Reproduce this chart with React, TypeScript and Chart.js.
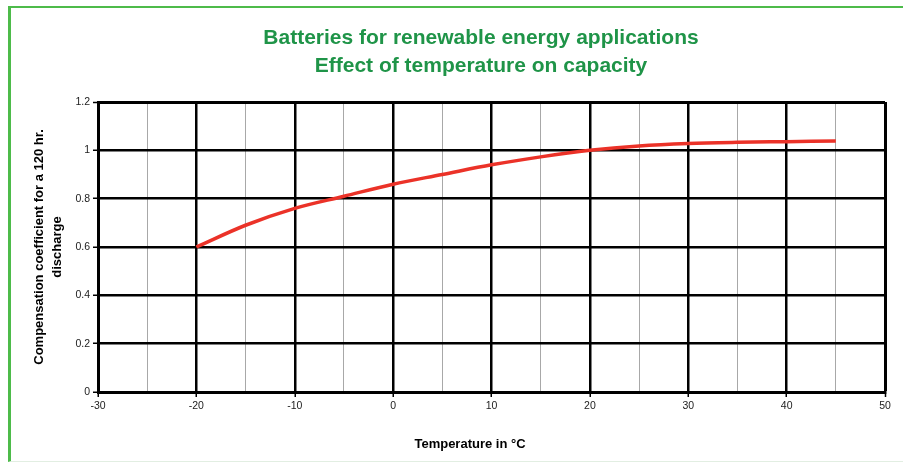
import { useEffect, useRef } from 'react';
import { Chart, registerables } from 'chart.js';

Chart.register(...registerables);

const titleLines = ['Batteries for renewable energy applications', 'Effect of temperature on capacity'];
const xAxisTitle = 'Temperature in °C';
const yAxisTitle = ['Compensation coefficient for a 120 hr.', 'discharge'];

const temperatures = [-20, -15, -10, -5, 0, 5, 10, 15, 20, 25, 30, 35, 40, 45];
const coefficients = [0.6, 0.69, 0.76, 0.81, 0.86, 0.9, 0.94, 0.973, 1.0, 1.018, 1.028, 1.033, 1.036, 1.039];

const xMin = -30;
const xMax = 50;
const xStep = 5;
const xMajor = 10;
const yMin = 0;
const yMax = 1.2;
const yStep = 0.2;

const FONT = '"Liberation Sans", Arial, Helvetica, sans-serif';

export default function App() {
  const canvasRef = useRef<HTMLCanvasElement | null>(null);

  useEffect(() => {
    const canvas = canvasRef.current;
    if (!canvas) return;
    const chart = new Chart(canvas, {
      type: 'line',
      data: {
        datasets: [
          {
            data: temperatures.map((t, i) => ({ x: t, y: coefficients[i] })),
            borderColor: '#eb3228',
            borderWidth: 3.5,
            pointRadius: 0,
            fill: false,
            cubicInterpolationMode: 'monotone',
          },
        ],
      },
      options: {
        animation: false,
        responsive: false,
        layout: { padding: { top: 102, right: 18, left: 0, bottom: 0 } },
        plugins: {
          legend: { display: false },
          tooltip: { enabled: false },
          title: { display: false },
        },
        scales: {
          x: {
            type: 'linear',
            min: xMin,
            max: xMax,
            afterFit: (s: any) => {
              s.height = 70;
            },
            ticks: {
              stepSize: xStep,
              autoSkip: false,
              maxRotation: 0,
              color: '#222',
              padding: 3,
              font: { family: FONT, size: 10.5 },
              callback: (v: any) => (Number(v) % xMajor === 0 ? String(v) : ''),
            },
            grid: {
              color: (ctx: any) => {
                const v = ctx.tick?.value ?? 0;
                return v % xMajor === 0 ? '#000' : '#a8a8a8';
              },
              lineWidth: (ctx: any) => {
                const v = ctx.tick?.value ?? 0;
                if (v === xMax) return 3;
                return v % xMajor === 0 ? 2.5 : 1;
              },
              tickColor: (ctx: any) => {
                const v = ctx.tick?.value ?? 0;
                return v % xMajor === 0 ? '#000' : 'rgba(0,0,0,0)';
              },
              tickLength: 5,
              tickWidth: 1.5,
            },
            border: { display: true, color: '#000', width: 3 },
          },
          y: {
            type: 'linear',
            min: yMin,
            max: yMax,
            afterFit: (s: any) => {
              s.width = 98;
            },
            ticks: {
              stepSize: yStep,
              color: '#222',
              padding: 3,
              font: { family: FONT, size: 10.5 },
              callback: (v: any) => String(Math.round(Number(v) * 10) / 10),
            },
            grid: {
              color: '#000',
              lineWidth: (ctx: any) => {
                const v = ctx.tick?.value ?? 0;
                return Math.abs(v - yMax) < 1e-6 ? 3 : 2.5;
              },
              tickColor: '#000',
              tickLength: 5,
              tickWidth: 1.5,
            },
            border: { display: true, color: '#000', width: 3 },
            title: {
              display: true,
              text: yAxisTitle,
              color: '#000',
              font: { family: FONT, size: 13, weight: 'bold', lineHeight: 18 / 13 },
              padding: { top: 30, bottom: 0 },
            },
          },
        },
      },
    } as any);
    return () => chart.destroy();
  }, []);

  return (
    <div
      style={{
        position: 'fixed',
        left: 0,
        top: 0,
        width: 903,
        height: 462,
        background: '#fff',
        overflow: 'hidden',
      }}
    >
      <div
        style={{
          position: 'absolute',
          left: 8,
          top: 6,
          right: 0,
          bottom: 0,
          borderLeft: '3px solid #4dbb4a',
          borderTop: '2px solid #4dbb4a',
          borderBottom: '1px solid #e2eee2',
        }}
      />
      <canvas
        ref={canvasRef}
        width={903}
        height={462}
        style={{ position: 'absolute', left: 0, top: 0, width: 903, height: 462 }}
      />
      <div
        style={{
          position: 'absolute',
          left: 181,
          top: 22.7,
          width: 600,
          textAlign: 'center',
          color: '#1f9448',
          fontFamily: FONT,
          fontWeight: 'bold',
          fontSize: 21,
          lineHeight: '28px',
        }}
      >
        {titleLines.map((l) => (
          <div key={l}>{l}</div>
        ))}
      </div>
      <div
        style={{
          position: 'absolute',
          left: 370,
          top: 436,
          width: 200,
          textAlign: 'center',
          color: '#000',
          fontFamily: FONT,
          fontWeight: 'bold',
          fontSize: 13,
          lineHeight: '16px',
        }}
      >
        {xAxisTitle}
      </div>
    </div>
  );
}
